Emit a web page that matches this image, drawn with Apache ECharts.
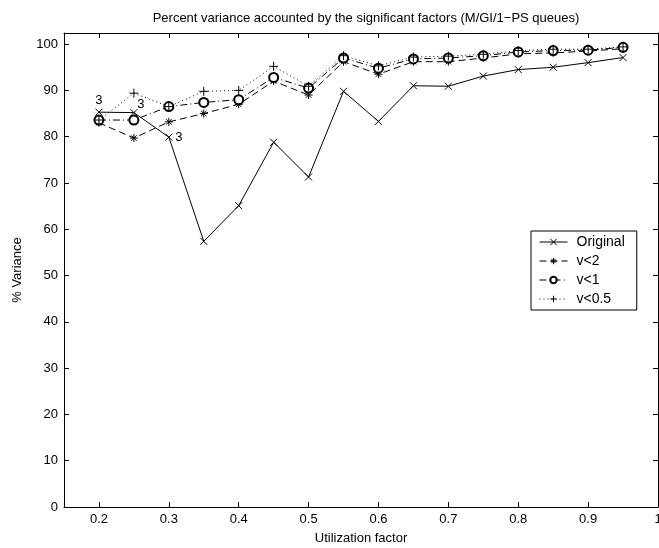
<!DOCTYPE html>
<html>
<head>
<meta charset="utf-8">
<script src="https://cdn.jsdelivr.net/npm/echarts@6/dist/echarts.min.js"></script>
<style>
html, body { margin: 0; padding: 0; background: #fff; }
#main { width: 659px; height: 548px; }
</style>
</head>
<body>
<div id="main"></div>
<script>
// utilization factor
var xValues = [0.2, 0.25, 0.3, 0.35, 0.4, 0.45, 0.5, 0.55, 0.6, 0.65, 0.7, 0.75, 0.8, 0.85, 0.9, 0.95];
var seriesNames = ['Original', 'v<2', 'v<1', 'v<0.5'];
var original = [85.3, 85.2, 79.9, 57.4, 65.1, 78.8, 71.3, 89.8, 83.3, 91.0, 90.9, 93.1, 94.5, 95.0, 96.0, 97.1];
var vLess2 = [83.0, 79.7, 83.2, 85.0, 87.0, 92.0, 89.0, 96.2, 93.5, 96.2, 96.2, 97.0, 97.9, 98.1, 98.5, 99.0];
var vLess1 = [83.6, 83.6, 86.5, 87.4, 88.0, 92.8, 90.5, 97.0, 94.8, 96.8, 97.0, 97.5, 98.3, 98.6, 98.7, 99.3];
var vLess05 = [83.6, 89.4, 86.5, 89.8, 90.0, 95.2, 90.9, 97.5, 95.3, 97.2, 97.4, 97.8, 98.6, 98.9, 98.9, 99.4];
// "3" annotations on the Original curve (index into xValues)
var notes = [0, 1, 2];
var noteText = '3';
var xTicks = [0.2, 0.3, 0.4, 0.5, 0.6, 0.7, 0.8, 0.9, 1];

var FONT = 'Liberation Sans';
var crossPath = 'path://M0,0L10,10M10,0L0,10';
var plusPath = 'path://M5,0L5,10M0,5L10,5';
var starPath = 'path://M5,0L5,10M0,5L10,5M1.6,1.6L8.4,8.4M8.4,1.6L1.6,8.4';

function pairs(ys) {
    return ys.map(function (y, i) { return [xValues[i], y]; });
}

var noteOffsets = [[0, -12], [7, -8], [10, 0]];
var origData = pairs(original).map(function (p, i) {
    var k = notes.indexOf(i);
    if (k < 0) return p;
    return {
        value: p,
        label: {
            show: true, formatter: noteText, position: 'inside',
            offset: noteOffsets[k], color: '#000', fontFamily: FONT, fontSize: 13
        }
    };
});

function lineSeries(name, data, symbol, size, type, color) {
    return {
        name: name,
        type: 'line',
        data: data,
        symbol: symbol,
        symbolSize: size,
        showAllSymbol: true,
        lineStyle: { color: color, width: 1, type: type },
        itemStyle: { color: color, borderColor: color, borderWidth: 1 },
        emphasis: { disabled: true },
        animation: false
    };
}

var chart = echarts.init(document.getElementById('main'));

var axisCommon = {
    type: 'value',
    axisLine: { show: true, onZero: false, lineStyle: { color: '#000', width: 1 } },
    splitLine: { show: false },
    axisTick: { inside: true, length: 5, lineStyle: { color: '#000' } }
};

var option = {
    backgroundColor: '#ffffff',
    title: {
        text: 'Percent variance accounted by the significant factors (M/GI/1\u2212PS queues)',
        left: 361, top: 7, textAlign: 'center',
        textStyle: { fontFamily: FONT, fontSize: 13, fontWeight: 'normal', color: '#000' }
    },
    legend: {
        orient: 'vertical',
        left: 531, top: 231,
        padding: [4, 12, 4, 8],
        itemGap: 5,
        itemWidth: 28, itemHeight: 8,
        backgroundColor: '#fff',
        borderColor: '#000', borderWidth: 1, borderRadius: 0,
        itemStyle: { borderWidth: 1 },
        lineStyle: { width: 1 },
        textStyle: { fontFamily: FONT, fontSize: 14, color: '#000', padding: [0, 0, 0, 4] },
        data: seriesNames
    },
    grid: { left: 64, right: 1, top: 33, bottom: 41, outerBoundsMode: 'none' },
    xAxis: [
        Object.assign({}, axisCommon, {
            min: 0.15, max: 1,
            name: 'Utilization factor', nameLocation: 'middle', nameGap: 25,
            nameTextStyle: { fontFamily: FONT, fontSize: 13, color: '#000' },
            axisTick: { inside: true, length: 5, lineStyle: { color: '#000' }, customValues: xTicks },
            axisLabel: { customValues: xTicks, fontFamily: FONT, fontSize: 13, color: '#000', margin: 6 }
        }),
        Object.assign({}, axisCommon, {
            position: 'top', min: 0.15, max: 1,
            axisTick: { inside: true, length: 5, lineStyle: { color: '#000' }, customValues: xTicks },
            axisLabel: { show: false }
        })
    ],
    yAxis: [
        Object.assign({}, axisCommon, {
            min: 0, max: 102.4, interval: 10,
            name: '% Variance', nameLocation: 'middle', nameGap: 40,
            nameTextStyle: { fontFamily: FONT, fontSize: 13, color: '#000' },
            axisLabel: { fontFamily: FONT, fontSize: 13, color: '#000', margin: 6, showMaxLabel: false }
        }),
        Object.assign({}, axisCommon, {
            position: 'right', min: 0, max: 102.4, interval: 10,
            axisLabel: { show: false }
        })
    ],
    series: [
        lineSeries('Original', origData, crossPath, 7, 'solid', '#000'),
        lineSeries('v<2', pairs(vLess2), starPath, 8, [7, 4], '#000'),
        lineSeries('v<1', pairs(vLess1), 'emptyCircle', 9, [7, 3, 1, 3], '#000'),
        lineSeries('v<0.5', pairs(vLess05), plusPath, 9, [1, 3], '#000')
    ]
};

chart.setOption(option);
</script>
</body>
</html>
